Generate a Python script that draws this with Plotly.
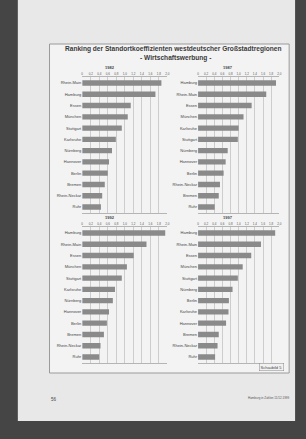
import plotly.graph_objects as go

W, H = 306, 439

# ---------------- data ----------------
title_line1 = "Ranking der Standortkoeffizienten westdeutscher Großstadtregionen"
title_line2 = "- Wirtschaftswerbung -"

years = ["1982", "1987", "1992", "1997"]

regions_1982 = ["Rhein-Main", "Hamburg", "Essen", "München", "Stuttgart", "Karlsruhe",
                "Nürnberg", "Hannover", "Berlin", "Bremen", "Rhein-Neckar", "Ruhr"]
values_1982 = [1.86, 1.72, 1.14, 1.07, 0.93, 0.79, 0.70, 0.63, 0.60, 0.53, 0.47, 0.44]

regions_1987 = ["Hamburg", "Rhein-Main", "Essen", "München", "Karlsruhe", "Stuttgart",
                "Nürnberg", "Hannover", "Berlin", "Rhein-Neckar", "Bremen", "Ruhr"]
values_1987 = [1.92, 1.68, 1.32, 1.12, 1.00, 0.98, 0.73, 0.68, 0.63, 0.54, 0.51, 0.41]

regions_1992 = ["Hamburg", "Rhein-Main", "Essen", "München", "Stuttgart", "Karlsruhe",
                "Nürnberg", "Hannover", "Berlin", "Bremen", "Rhein-Neckar", "Ruhr"]
values_1992 = [1.95, 1.51, 1.21, 1.05, 0.93, 0.77, 0.72, 0.63, 0.58, 0.51, 0.43, 0.40]

regions_1997 = ["Hamburg", "Rhein-Main", "Essen", "München", "Stuttgart", "Nürnberg",
                "Berlin", "Karlsruhe", "Hannover", "Bremen", "Rhein-Neckar", "Ruhr"]
values_1997 = [1.90, 1.55, 1.31, 1.10, 0.98, 0.85, 0.76, 0.75, 0.69, 0.51, 0.48, 0.42]

tick_values = [0, 0.2, 0.4, 0.6, 0.8, 1.0, 1.2, 1.4, 1.6, 1.8, 2.0]
tick_labels = ["0", "0,2", "0,4", "0,6", "0,8", "1,0", "1,2", "1,4", "1,6", "1,8", "2,0"]

chart_label = "Schaubild 5"
page_number = "56"
footer = "Hamburg in Zahlen 11/12.1999"

# ---------------- layout helpers ----------------
def px(x):
    return x / W

def py(y):
    return 1 - y / H

panels = [
    (regions_1982, values_1982, (82, 168), (77.4, 212.6), 110),
    (regions_1987, values_1987, (199, 281), (77.4, 212.6), 229),
    (regions_1992, values_1992, (82, 168), (227.4, 362.6), 110),
    (regions_1997, values_1997, (199, 281), (227.4, 362.6), 229),
]

BAR = "#8a8a8a"
GRID = "#cdcdcd"

fig = go.Figure()
annotations = []
layout_axes = {}

for i, (regs, vals, (x0, x1), (y0, y1), yr_x) in enumerate(panels):
    n = "" if i == 0 else str(i + 1)
    fig.add_trace(go.Bar(
        x=vals, y=regs, orientation="h",
        marker=dict(color=BAR, line=dict(width=0)),
        width=0.48,
        xaxis="x" + n, yaxis="y" + n, showlegend=False,
        hoverinfo="x+y",
    ))
    layout_axes["xaxis" + n] = dict(
        domain=[px(x0), px(x1)], anchor="y" + n, side="top",
        range=[0, 2.0], tickvals=tick_values, ticktext=tick_labels,
        tickfont=dict(size=3, color="#555", family="Liberation Sans"),
        showgrid=True, gridcolor=GRID, gridwidth=0.6,
        showline=True, linecolor="#b5b5b5", linewidth=0.6, mirror=True,
        zeroline=False, ticks="", ticklen=0,
    )
    layout_axes["yaxis" + n] = dict(
        domain=[py(y1), py(y0)], anchor="x" + n,
        categoryorder="array", categoryarray=regs, autorange="reversed",
        tickfont=dict(size=4, color="#444", family="Liberation Sans"),
        showgrid=False, showline=False, ticks="", ticklen=0,
    )
    annotations.append(dict(
        x=px(yr_x), y=py(y0 - 9.5), xref="paper", yref="paper",
        text="<b>" + years[i] + "</b>", showarrow=False,
        font=dict(size=4, color="#444", family="Liberation Sans"),
        xanchor="center", yanchor="middle",
    ))

annotations += [
    dict(x=px(174), y=py(48.5), xref="paper", yref="paper", text="<b>" + title_line1 + "</b>",
         showarrow=False, font=dict(size=6.6, color="#3a3a3a", family="Liberation Sans"),
         xanchor="center", yanchor="middle"),
    dict(x=px(176), y=py(58), xref="paper", yref="paper", text="<b>" + title_line2 + "</b>",
         showarrow=False, font=dict(size=6.6, color="#3a3a3a", family="Liberation Sans"),
         xanchor="center", yanchor="middle"),
    dict(x=px(273), y=py(367), xref="paper", yref="paper", text=chart_label,
         showarrow=False, font=dict(size=4, color="#444", family="Liberation Sans"),
         xanchor="center", yanchor="middle", bordercolor="#888", borderwidth=0.5, borderpad=1,
         bgcolor="#f1f1f1"),
    dict(x=px(48), y=py(399.5), xref="paper", yref="paper", text=page_number,
         showarrow=False, font=dict(size=4.5, color="#444", family="Liberation Sans"),
         xanchor="left", yanchor="middle"),
    dict(x=px(293), y=py(398), xref="paper", yref="paper", text=footer,
         showarrow=False, font=dict(size=3, color="#555", family="Liberation Sans"),
         xanchor="right", yanchor="middle"),
]

shapes = [
    # page
    dict(type="rect", xref="paper", yref="paper", x0=px(17), x1=px(297), y0=py(421), y1=py(0),
         fillcolor="#e8e8e8", line=dict(width=0), layer="below"),
    # chart frame
    dict(type="rect", xref="paper", yref="paper", x0=px(49), x1=px(291), y0=py(373), y1=py(44),
         fillcolor="#f3f3f3", line=dict(color="#9a9a9a", width=1), layer="below"),
]

fig.update_layout(
    width=W, height=H, margin=dict(l=0, r=0, t=0, b=0),
    paper_bgcolor="#454545", plot_bgcolor="#f7f7f7",
    bargap=0.55, annotations=annotations, shapes=shapes,
    **layout_axes,
)

fig.write_html("out.html")
